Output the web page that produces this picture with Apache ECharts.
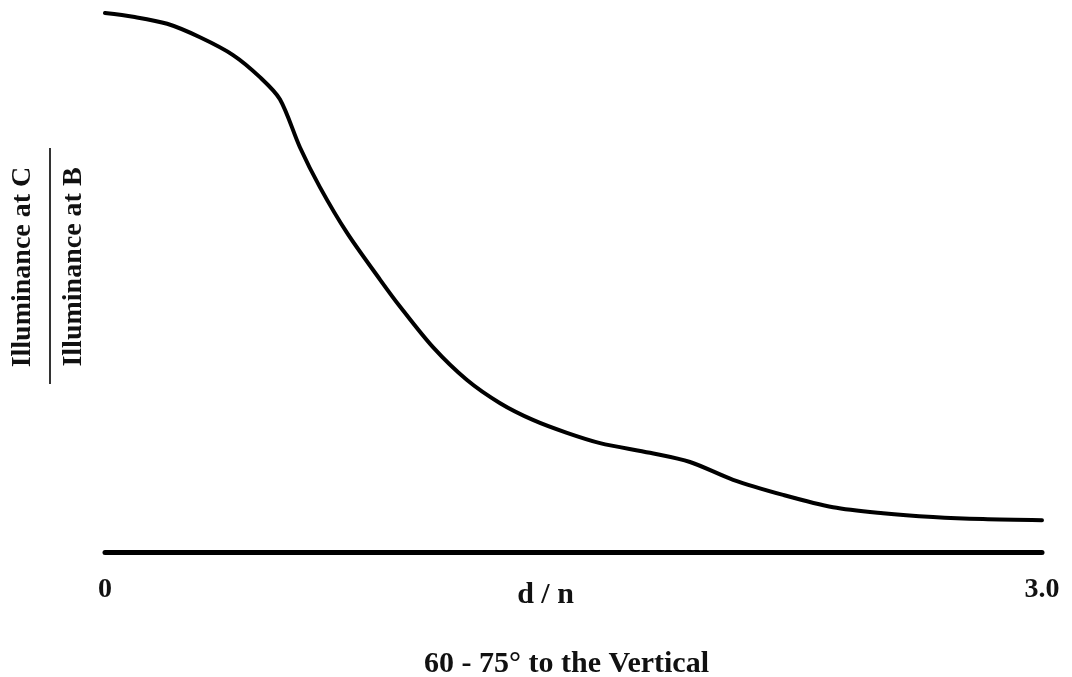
<!DOCTYPE html>
<html>
<head>
<meta charset="utf-8">
<script src="https://cdn.jsdelivr.net/npm/echarts@6/dist/echarts.min.js"></script>
<style>
  html, body { margin: 0; padding: 0; background: #fff; }
  #chart { width: 1072px; height: 677px; }
</style>
</head>
<body>
<div id="chart"></div>
<script>
// d/n values and relative illuminance ratio
const dn = [0, 0.09, 0.199, 0.304, 0.41, 0.496, 0.56, 0.624, 0.688, 0.775, 0.881, 0.945,
  1.05, 1.159, 1.265, 1.37, 1.479, 1.585, 1.745, 1.873, 2.011, 2.171, 2.331, 2.491,
  2.651, 2.811, 3.0];
const ratio = [1.0, 0.993, 0.98, 0.955, 0.922, 0.881, 0.84, 0.751, 0.677, 0.592, 0.505, 0.455,
  0.38, 0.319, 0.276, 0.245, 0.221, 0.202, 0.184, 0.167, 0.134, 0.106, 0.083, 0.072,
  0.065, 0.061, 0.059];
const xTickLabels = { 0: "0", 3: "3.0" };

const font = "'Liberation Serif', 'DejaVu Serif', serif";

const chart = echarts.init(document.getElementById("chart"));
chart.setOption({
  backgroundColor: "#fff",
  animation: false,
  grid: { left: 105, right: 30, top: 13, bottom: 125 },
  title: {
    text: "60 - 75° to the Vertical",
    left: 424,
    top: 649,
    padding: 0,
    textStyle: { fontFamily: font, fontSize: 30, fontWeight: "bold", color: "#111" }
  },
  xAxis: {
    type: "value",
    min: 0,
    max: 3,
    interval: 3,
    name: "d / n",
    nameLocation: "middle",
    nameGap: 28,
    nameMoveOverlap: false,
    nameTextStyle: {
      fontFamily: font, fontSize: 30, fontWeight: "bold", color: "#111",
      padding: [0, 56, 0, 0]
    },
    axisLine: { lineStyle: { color: "#000", width: 5 } },
    axisTick: { show: false },
    splitLine: { show: false },
    axisLabel: {
      margin: 24,
      fontFamily: font,
      fontSize: 28,
      fontWeight: "bold",
      color: "#111",
      formatter: v => xTickLabels[v] ?? ""
    }
  },
  yAxis: {
    type: "value",
    min: 0,
    max: 1,
    show: false
  },
  graphic: [
    {
      type: "text",
      x: 23, y: 267,
      rotation: Math.PI / 2,
      style: {
        text: "Illuminance at C",
        fontFamily: font, fontSize: 28, fontWeight: "bold", fill: "#111",
        align: "center", verticalAlign: "middle"
      }
    },
    {
      type: "line",
      shape: { x1: 50, y1: 148, x2: 50, y2: 384 },
      style: { stroke: "#333", lineWidth: 2 }
    },
    {
      type: "text",
      x: 74, y: 267,
      rotation: Math.PI / 2,
      style: {
        text: "Illuminance at B",
        fontFamily: font, fontSize: 28, fontWeight: "bold", fill: "#111",
        align: "center", verticalAlign: "middle"
      }
    }
  ],
  series: [
    {
      type: "line",
      data: dn.map((d, i) => [d, ratio[i]]),
      smooth: 0.3,
      showSymbol: false,
      lineStyle: { color: "#000", width: 4, cap: "round" }
    }
  ]
});
</script>
</body>
</html>
